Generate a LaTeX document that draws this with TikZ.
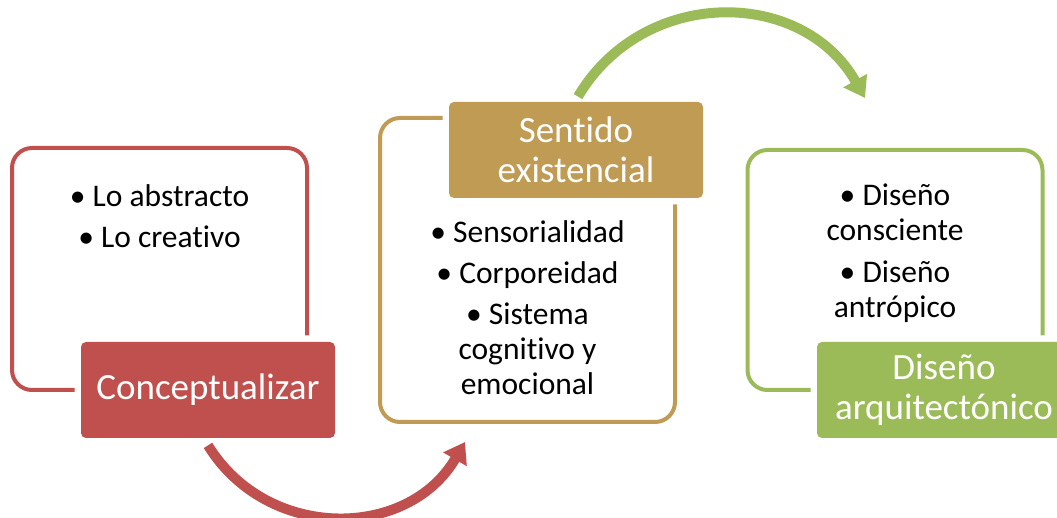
\documentclass[tikz,border=0pt]{standalone}
\usepackage{fontspec}
\setmainfont{Carlito}[Ligatures=CommonOff]
\usetikzlibrary{arrows.meta}
\definecolor{cRed}{HTML}{C0504D}
\definecolor{cGold}{HTML}{BF9B53}
\definecolor{cGreen}{HTML}{9BBB59}
\tikzset{
  framebox/.style  = {draw=#1, line width=2pt, rounded corners=10pt,
                      minimum width=147.5pt, inner sep=0pt},
  titlebox/.style  = {fill=#1, text=white, rounded corners=2.5pt,
                      minimum width=127pt, minimum height=48pt, inner sep=0pt,
                      align=center, font=\fontsize{18.5}{20}\selectfont,
                      preaction={draw=white, line width=6.5pt}},
  itemtext/.style  = {align=center, anchor=base, inner sep=0pt,
                      font=\fontsize{15.75}{17.5}\selectfont},
  flowarrow/.style = {draw=#1, line width=5pt,
                      -{Triangle[length=10pt,width=13pt]}}
}
\begin{document}
\begin{tikzpicture}[x=0.5pt,y=-0.5pt]
  \useasboundingbox (0,0) rectangle (1057,518);
  % outline boxes
  \node[framebox=cRed,   minimum height=121pt] (c1) at (159.5,269) {};
  \node[framebox=cGold,  minimum height=152pt] (c2) at (527.5,270) {};
  \node[framebox=cGreen, minimum height=120pt] (c3) at (895,270) {};
  % bullet lists (base = baseline of the last line)
  \node[itemtext] (t1) at (159.5,248) {• Lo abstracto\\[3pt] • Lo creativo};
  \node[itemtext] (t2) at (527.5,395) {• Sensorialidad\\[3pt] • Corporeidad\\[3pt]
        • Sistema\\ cognitivo y\\ emocional};
  \node[itemtext] (t3) at (895,318) {• Diseño\\ consciente\\[3.5pt] • Diseño\\ antrópico};
  % title boxes
  \node[titlebox=cRed]   (l1) at (208,390) {Conceptualizar};
  \node[titlebox=cGold]  (l2) at (576,150) {Sentido\\ existencial};
  \node[titlebox=cGreen] (l3) at (944,390) {Diseño\\ arquitectónico};
  % arrows between the steps
  \coordinate (a1s) at ([yshift=-3.5pt]l1.south);
  \coordinate (a1e) at (465,442);
  \coordinate (a2s) at ([xshift=1pt,yshift=2.5pt]l2.north);
  \coordinate (a2e) at (865,98);
  \draw[flowarrow=cRed]   (a1s) .. controls +(59,96) and +(-57,98) .. (a1e);
  \draw[flowarrow=cGreen] (a2s) .. controls +(65,-110) and +(-63,-111) .. (a2e);
\end{tikzpicture}
\end{document}
